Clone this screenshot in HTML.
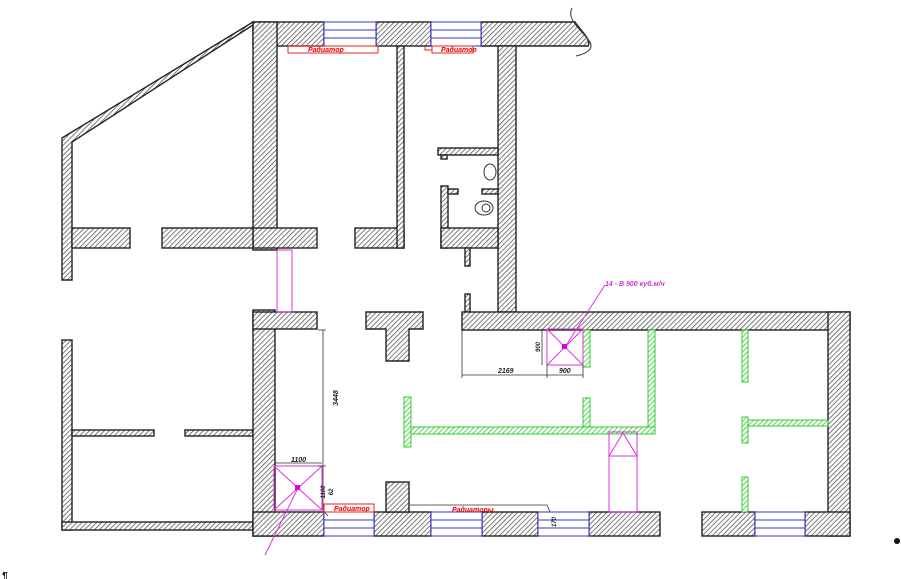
<!DOCTYPE html>
<html><head><meta charset="utf-8"><style>
html,body{margin:0;padding:0;background:#fff;}
svg{display:block}
text{font-family:"Liberation Sans",sans-serif;font-style:italic;font-weight:bold;}
</style></head><body>
<svg width="901" height="579" viewBox="0 0 901 579" xmlns="http://www.w3.org/2000/svg">
<defs>
<pattern id="h" patternUnits="userSpaceOnUse" width="3.5" height="3.5" patternTransform="rotate(45)">
<rect width="3.5" height="3.5" fill="#fff"/><line x1="0" y1="0" x2="0" y2="3.5" stroke="#444" stroke-width="1.4"/>
</pattern>
<pattern id="g" patternUnits="userSpaceOnUse" width="3.5" height="3.5" patternTransform="rotate(45)">
<rect width="3.5" height="3.5" fill="#fff"/><line x1="0" y1="0" x2="0" y2="3.5" stroke="#2c2" stroke-width="1.5"/>
</pattern>
</defs>
<g fill="url(#h)" stroke="#222" stroke-width="1.4">
<rect x="253" y="22" width="71" height="24"/>
<rect x="376" y="22" width="55" height="24"/>
<path d="M481 22 H575 C580 30,592 40,588 46 H481 Z"/>
<rect x="253" y="22" width="24" height="228"/>
<rect x="253" y="228" width="64" height="20"/>
<rect x="355" y="228" width="49" height="20"/>
<rect x="397" y="46" width="7" height="202"/>
<rect x="498" y="46" width="18" height="266"/>
<rect x="438" y="148" width="60" height="7"/>
<rect x="441" y="155" width="6" height="4"/>
<rect x="441" y="186" width="7" height="62"/>
<rect x="448" y="189" width="10" height="5"/>
<rect x="482" y="189" width="16" height="5"/>
<rect x="441" y="228" width="57" height="20"/>
<rect x="465" y="248" width="5" height="18"/>
<rect x="465" y="294" width="5" height="18"/>
<path d="M62 138 L253 22 L253 25 L72 142 L72 280 L62 280 Z"/>
<rect x="72" y="228" width="58" height="20"/>
<rect x="162" y="228" width="91" height="20"/>
<rect x="62" y="340" width="10" height="190"/>
<rect x="72" y="430" width="82" height="6"/>
<rect x="185" y="430" width="68" height="6"/>
<rect x="62" y="522" width="191" height="8"/>
<rect x="253" y="310" width="22" height="226"/>
<rect x="253" y="312" width="64" height="17"/>
<path d="M366 312 H423 V329 H409 V361 H386 V329 H366 Z"/>
<rect x="462" y="312" width="388" height="18"/>
<rect x="828" y="312" width="22" height="224"/>
<rect x="253" y="512" width="71" height="24"/>
<rect x="374" y="512" width="57" height="24"/>
<rect x="386" y="482" width="23" height="30"/>
<rect x="482" y="512" width="56" height="24"/>
<rect x="589" y="512" width="71" height="24"/>
<rect x="702" y="512" width="53" height="24"/>
<rect x="805" y="512" width="45" height="24"/>
</g>
<path d="M572 8 C566 20,582 30,590 42 C594 50,585 54,576 56" stroke="#333" fill="none"/>
<g fill="#fff" stroke="#33c" stroke-width="1">
<rect x="324" y="22" width="52" height="24"/><path d="M324 30H376M324 38H376"/>
<rect x="431" y="22" width="50" height="24"/><path d="M431 30H481M431 38H481"/>
<rect x="324" y="512" width="50" height="24"/><path d="M324 520H374M324 528H374"/>
<rect x="431" y="512" width="51" height="24"/><path d="M431 520H482M431 528H482"/>
<rect x="538" y="512" width="51" height="24"/><path d="M538 520H589M538 528H589"/>
<rect x="755" y="512" width="50" height="24"/><path d="M755 520H805M755 528H805"/>
</g>
<ellipse cx="490" cy="172" rx="6" ry="8" fill="none" stroke="#333"/>
<ellipse cx="484" cy="208" rx="9" ry="7" fill="none" stroke="#333"/>
<ellipse cx="486" cy="208" rx="4" ry="4" fill="none" stroke="#333"/>
<g fill="url(#g)" stroke="#3c3" stroke-width="1">
<rect x="404" y="397" width="7" height="50"/>
<rect x="411" y="427" width="244" height="7"/>
<rect x="648" y="330" width="7" height="97"/>
<rect x="583" y="398" width="7" height="29"/>
<rect x="583" y="330" width="7" height="37"/>
<rect x="742" y="330" width="6" height="52"/>
<rect x="742" y="417" width="6" height="26"/>
<rect x="748" y="420" width="80" height="6"/>
<rect x="742" y="477" width="6" height="35"/>
</g>
<g fill="none" stroke="#d3d" stroke-width="1">
<rect x="277" y="250" width="15" height="62"/>
<rect x="274" y="466" width="48" height="44"/><path d="M274 466L322 510M322 466L274 510M298 488L265 555"/>
<rect x="547" y="329" width="36" height="36"/><path d="M547 329L583 365M583 329L547 365M565 347L605 285"/>
<rect x="609" y="432" width="28" height="80"/><path d="M609 456H637L623 433Z"/>
</g>
<rect x="295" y="485" width="5" height="5" fill="#d0d"/>
<rect x="562" y="344" width="5" height="5" fill="#d0d"/>
<text x="605" y="286" font-size="7" fill="#c3c">14 - В 900 куб.м/ч</text>
<g fill="none" stroke="#333" stroke-width="0.8">
<path d="M323 330V466M318 330H326M318 466H326"/>
<path d="M274 463H322"/>
<path d="M462 330V378M462 375H583M547 365V378M583 365V378M542 329V365"/>
<path d="M323 466V510L328 516"/>
<path d="M410 505H547L550 512"/>
</g>
<text x="0" y="0" font-size="7" fill="#222" transform="translate(338,398) rotate(-90)" text-anchor="middle">3448</text>
<text x="291" y="462" font-size="7" fill="#222">1100</text>
<text x="0" y="0" font-size="6" fill="#222" transform="translate(325,492) rotate(-90)" text-anchor="middle">1100</text>
<text x="0" y="0" font-size="6" fill="#222" transform="translate(333,492) rotate(-90)" text-anchor="middle">62</text>
<text x="498" y="373" font-size="7" fill="#222">2169</text>
<text x="559" y="373" font-size="7" fill="#222">900</text>
<text x="0" y="0" font-size="6" fill="#222" transform="translate(540,347) rotate(-90)" text-anchor="middle">900</text>
<text x="0" y="0" font-size="6" fill="#222" transform="translate(556,522) rotate(-90)" text-anchor="middle">170</text>
<g fill="none" stroke="#e22" stroke-width="1">
<rect x="288" y="46" width="90" height="7"/>
<path d="M425 46V50H432"/><rect x="432" y="46" width="41" height="7"/>
<rect x="324" y="504" width="50" height="8"/>
</g>
<text x="308" y="52" font-size="7" fill="#e00">Радиатор</text>
<text x="441" y="52" font-size="7" fill="#e00">Радиатор</text>
<text x="334" y="511" font-size="7" fill="#e00">Радиатор</text>
<text x="452" y="512" font-size="7" fill="#e00">Радиаторы</text>
<circle cx="897" cy="541" r="3" fill="#111"/>
<text x="2" y="579" font-size="10" fill="#111" font-style="normal">¶</text>
</svg>
</body></html>
